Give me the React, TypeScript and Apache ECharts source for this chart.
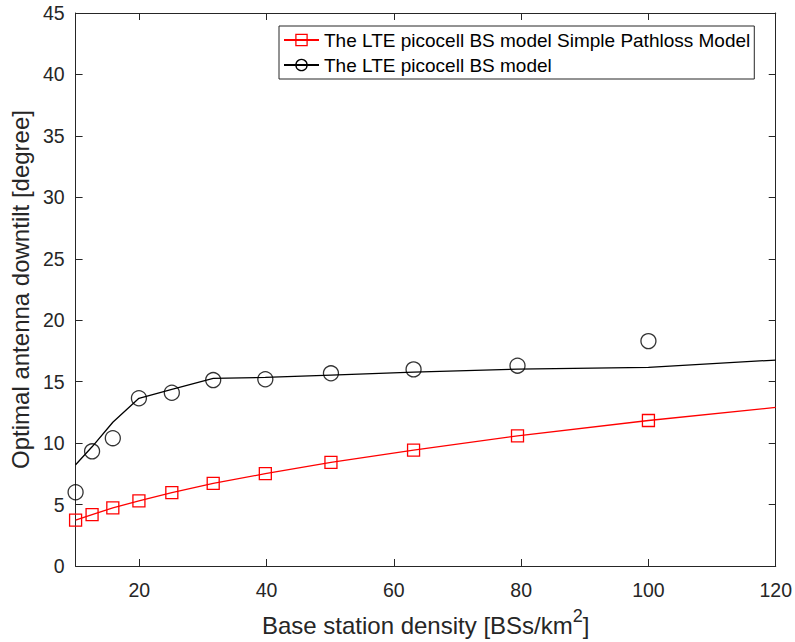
import React, { useEffect, useRef } from "react";
import * as echarts from "echarts";

// Base station densities (BSs/km^2), log-spaced samples
const densities = [10, 12.59, 15.85, 19.95, 25.12, 31.62, 39.81, 50.12, 63.1, 79.43, 100];
// Red series: simple pathloss model (markers on the line), plus line end at 120
const simplePathlossTilt = [3.73, 4.18, 4.73, 5.3, 5.97, 6.73, 7.51, 8.43, 9.43, 10.59, 11.84];
const simplePathlossEndDensity = 120;
const simplePathlossEndTilt = 12.9;
// Black series: sample points (circles)
const picocellTilt = [6.0, 9.33, 10.4, 13.65, 14.1, 15.13, 15.2, 15.68, 16.0, 16.3, 18.3];
// Black series: fitted curve
const fitDensities = [10, 12.59, 15.85, 19.95, 25.12, 31.62, 39.81, 50.12, 63.1, 79.43, 100, 120];
const picocellFit = [8.24, 9.7, 11.7, 13.65, 14.38, 15.27, 15.35, 15.54, 15.78, 16.02, 16.16, 16.76];
// Axis ticks
const xTicks = [20, 40, 60, 80, 100, 120];

const RED_NAME = "The LTE picocell BS model Simple Pathloss Model";
const BLACK_NAME = "The LTE picocell BS model";
const FONT = '"Liberation Sans", Arial, Helvetica, sans-serif';
const AXIS = "#262626";

export default function App() {
  const ref = useRef<HTMLDivElement | null>(null);

  useEffect(() => {
    if (!ref.current) return;
    const chart = echarts.init(ref.current, undefined, { renderer: "svg" });

    const axisLine = { show: true, onZero: false, lineStyle: { color: AXIS, width: 1 } };

    const redData: any[] = densities.map((d, i) => [d, simplePathlossTilt[i]]);
    redData.push({ value: [simplePathlossEndDensity, simplePathlossEndTilt], symbol: "none" });

    const option: any = {
      animation: false,
      backgroundColor: "#ffffff",
      textStyle: { fontFamily: FONT },
      grid: { left: 72, right: 19, top: 13, bottom: 73, containLabel: false },
      legend: {
        data: [RED_NAME, BLACK_NAME],
        orient: "vertical",
        left: 279,
        top: 26,
        itemWidth: 35,
        itemHeight: 14,
        itemGap: 3,
        padding: [3, 4, 3, 4],
        borderColor: AXIS,
        borderWidth: 1,
        borderRadius: 0,
        backgroundColor: "#ffffff",
        selectedMode: false,
        itemStyle: { borderWidth: 1.3 },
        textStyle: { fontSize: 19, fontFamily: FONT, color: "#000000", lineHeight: 22 },
      },
      xAxis: [
        {
          type: "value",
          min: 10,
          max: 120,
          position: "bottom",
          axisLine,
          axisTick: { show: true, inside: true, length: 7, customValues: xTicks, lineStyle: { color: AXIS } },
          axisLabel: { customValues: xTicks, color: AXIS, fontSize: 19.5, fontFamily: FONT, margin: 14 },
          splitLine: { show: false },
          name: "{n|Base station density [BSs/km}{s|2}{n|]}",
          nameLocation: "middle",
          nameGap: 43,
          nameTextStyle: {
            fontFamily: FONT,
            color: AXIS,
            rich: {
              n: { fontSize: 24, fontFamily: FONT, color: AXIS, lineHeight: 28, verticalAlign: "bottom" },
              s: { fontSize: 18, fontFamily: FONT, color: AXIS, lineHeight: 18, padding: [0, 0, 12, 0], verticalAlign: "bottom" },
            },
          },
        },
        {
          type: "value",
          min: 10,
          max: 120,
          position: "top",
          axisLine,
          axisTick: { show: true, inside: true, length: 7, customValues: xTicks, lineStyle: { color: AXIS } },
          axisLabel: { show: false },
          splitLine: { show: false },
        },
      ],
      yAxis: [
        {
          type: "value",
          min: 0,
          max: 45,
          interval: 5,
          position: "left",
          axisLine,
          axisTick: { show: true, inside: true, length: 7, lineStyle: { color: AXIS } },
          axisLabel: { color: AXIS, fontSize: 19.5, fontFamily: FONT, margin: 11 },
          splitLine: { show: false },
          name: "Optimal antenna downtilt [degree]",
          nameLocation: "middle",
          nameGap: 33,
          nameTextStyle: { fontSize: 24, fontFamily: FONT, color: AXIS },
        },
        {
          type: "value",
          min: 0,
          max: 45,
          interval: 5,
          position: "right",
          axisLine,
          axisTick: { show: true, inside: true, length: 7, lineStyle: { color: AXIS } },
          axisLabel: { show: false },
          splitLine: { show: false },
        },
      ],
      series: [
        {
          type: "line",
          name: RED_NAME,
          xAxisIndex: 0,
          yAxisIndex: 0,
          data: redData,
          symbol: "rect",
          symbolSize: 12,
          showSymbol: true,
          itemStyle: { color: "transparent", borderColor: "#ff0000", borderWidth: 1.3 },
          lineStyle: { color: "#ff0000", width: 1.3 },
          z: 3,
        },
        {
          type: "line",
          name: BLACK_NAME,
          xAxisIndex: 0,
          yAxisIndex: 0,
          data: fitDensities.map((d, i) => [d, picocellFit[i]]),
          symbol: "circle",
          symbolSize: 12,
          showSymbol: false,
          itemStyle: { color: "transparent", borderColor: "#000000", borderWidth: 1.3 },
          lineStyle: { color: "#000000", width: 1.3 },
          z: 3,
        },
        {
          type: "scatter",
          name: "picocell samples",
          xAxisIndex: 0,
          yAxisIndex: 0,
          data: densities.map((d, i) => [d, picocellTilt[i]]),
          symbol: "circle",
          symbolSize: 15,
          itemStyle: { color: "transparent", borderColor: "#000000", borderWidth: 1.3 },
          z: 4,
        },
      ],
    };

    chart.setOption(option);
    return () => {
      chart.dispose();
    };
  }, []);

  return (
    <div
      ref={ref}
      style={{ position: "absolute", left: 0, top: 0, width: 795, height: 642, background: "#fff" }}
    />
  );
}
